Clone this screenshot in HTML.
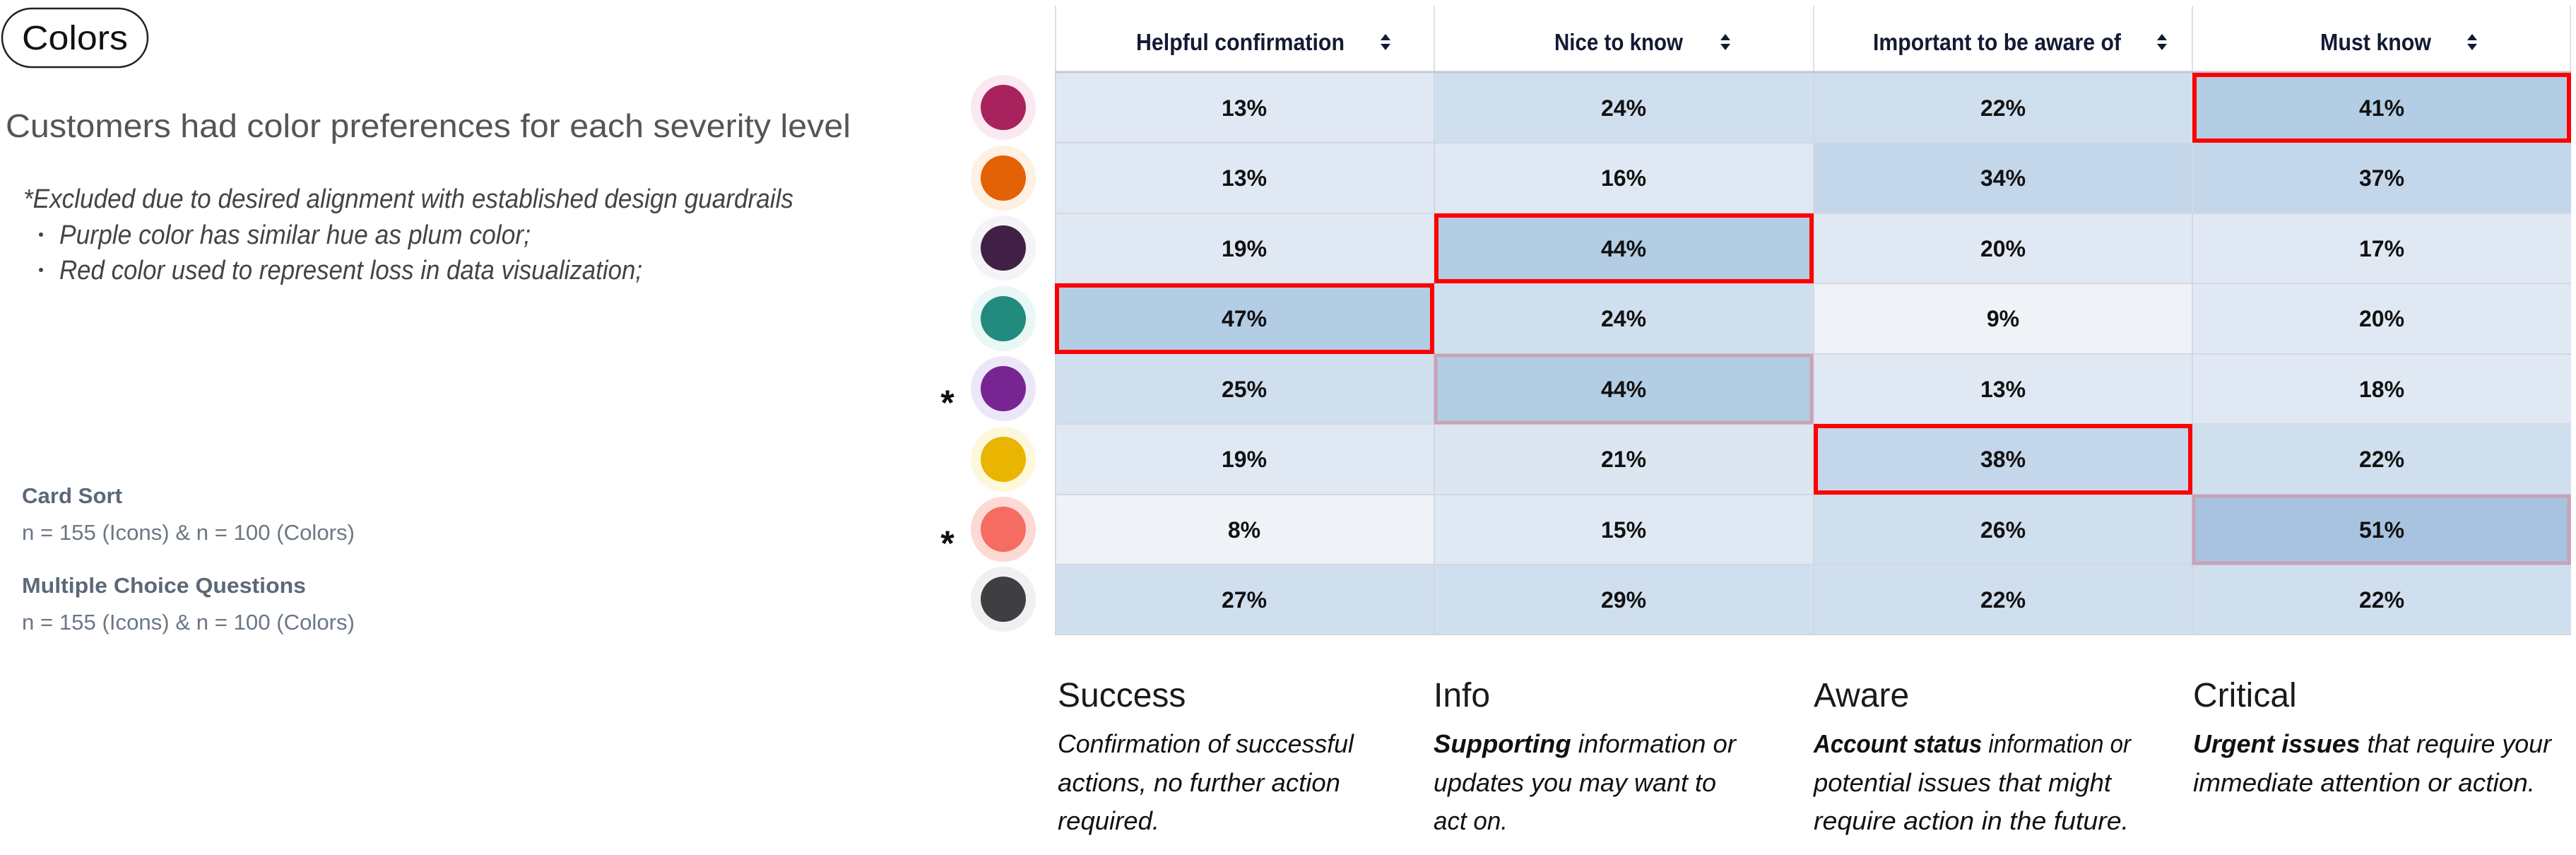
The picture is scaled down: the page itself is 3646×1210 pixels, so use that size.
<!DOCTYPE html>
<html><head><meta charset="utf-8"><style>html,body{margin:0;padding:0;background:#fff}svg{display:block}</style></head><body>
<svg width="3646" height="1210" viewBox="0 0 3646 1210" xmlns="http://www.w3.org/2000/svg" font-family="Liberation Sans, sans-serif">
<rect width="3646" height="1210" fill="#fff"/>
<rect x="3" y="12" width="206" height="83" rx="41.5" fill="#fff" stroke="#222" stroke-width="2.5"/>
<text x="106" y="70" font-size="48" fill="#111" text-anchor="middle" textLength="150" lengthAdjust="spacingAndGlyphs">Colors</text>
<text x="8" y="194" font-size="46" fill="#555" textLength="1196" lengthAdjust="spacingAndGlyphs">Customers had color preferences for each severity level</text>
<g font-style="italic" font-size="38" fill="#444">
<text x="33" y="294" textLength="1090" lengthAdjust="spacingAndGlyphs">*Excluded due to desired alignment with established design guardrails</text>
<text x="84" y="345" textLength="667" lengthAdjust="spacingAndGlyphs">Purple color has similar hue as plum color;</text>
<text x="84" y="395" textLength="825" lengthAdjust="spacingAndGlyphs">Red color used to represent loss in data visualization;</text>
</g>
<circle cx="58" cy="332" r="3" fill="#444"/><circle cx="58" cy="382" r="3" fill="#444"/>
<text x="31" y="712" font-size="31" font-weight="bold" fill="#5b6878" textLength="142" lengthAdjust="spacingAndGlyphs">Card Sort</text>
<text x="31" y="764" font-size="31" fill="#6b7785" textLength="471" lengthAdjust="spacingAndGlyphs">n = 155 (Icons) &amp; n = 100 (Colors)</text>
<text x="31" y="839" font-size="31" font-weight="bold" fill="#5b6878" textLength="402" lengthAdjust="spacingAndGlyphs">Multiple Choice Questions</text>
<text x="31" y="891" font-size="31" fill="#6b7785" textLength="471" lengthAdjust="spacingAndGlyphs">n = 155 (Icons) &amp; n = 100 (Colors)</text>

<g>
<circle cx="1420" cy="152" r="46" fill="#fbe9f1"/><circle cx="1420" cy="152" r="32" fill="#a8235e"/>
<circle cx="1420" cy="252" r="46" fill="#fef0e3"/><circle cx="1420" cy="252" r="32" fill="#e36205"/>
<circle cx="1420" cy="351" r="46" fill="#f4f4f8"/><circle cx="1420" cy="351" r="32" fill="#412046"/>
<circle cx="1420" cy="451" r="46" fill="#e9f8f4"/><circle cx="1420" cy="451" r="32" fill="#228b7d"/>
<circle cx="1420" cy="550" r="46" fill="#ece7f8"/><circle cx="1420" cy="550" r="32" fill="#772592"/>
<circle cx="1420" cy="650" r="46" fill="#fdf8dc"/><circle cx="1420" cy="650" r="32" fill="#e9b500"/>
<circle cx="1420" cy="749" r="46" fill="#fdd9d4"/><circle cx="1420" cy="749" r="32" fill="#f46c62"/>
<circle cx="1420" cy="848" r="46" fill="#f0f0f2"/><circle cx="1420" cy="848" r="32" fill="#3f3f41"/>
</g>
<text x="1341" y="587" font-size="50" font-weight="bold" fill="#111" text-anchor="middle">*</text>
<text x="1341" y="786" font-size="50" font-weight="bold" fill="#111" text-anchor="middle">*</text>

<g stroke="#dde0ea" stroke-width="2">
<line x1="1494" y1="8" x2="1494" y2="103"/><line x1="2030" y1="8" x2="2030" y2="103"/><line x1="2567" y1="8" x2="2567" y2="103"/><line x1="3103" y1="8" x2="3103" y2="103"/><line x1="3638" y1="8" x2="3638" y2="103"/>
</g>
<g font-size="33" font-weight="bold" fill="#131a33">
<text x="1608" y="71" textLength="295" lengthAdjust="spacingAndGlyphs">Helpful confirmation</text>
<text x="2200" y="71" textLength="182" lengthAdjust="spacingAndGlyphs">Nice to know</text>
<text x="2651" y="71" textLength="351" lengthAdjust="spacingAndGlyphs">Important to be aware of</text>
<text x="3284" y="71" textLength="157" lengthAdjust="spacingAndGlyphs">Must know</text>
</g>
<g fill="#131a33">
<path d="M1954 57 L1968 57 L1961 48 Z M1954 62 L1968 62 L1961 71 Z"/>
<path d="M2435 57 L2449 57 L2442 48 Z M2435 62 L2449 62 L2442 71 Z"/>
<path d="M3053 57 L3067 57 L3060 48 Z M3053 62 L3067 62 L3060 71 Z"/>
<path d="M3492 57 L3506 57 L3499 48 Z M3492 62 L3506 62 L3499 71 Z"/>
</g>

<g>
<rect x="1493" y="103" width="537" height="99" fill="#e0e9f3"/><rect x="2030" y="103" width="537" height="99" fill="#d0dfee"/><rect x="2567" y="103" width="536" height="99" fill="#d0dfee"/><rect x="3103" y="103" width="536" height="99" fill="#b3cde4"/>
<rect x="1493" y="202" width="537" height="100" fill="#e0e9f3"/><rect x="2030" y="202" width="537" height="100" fill="#e0e9f3"/><rect x="2567" y="202" width="536" height="100" fill="#c4d6ea"/><rect x="3103" y="202" width="536" height="100" fill="#c4d6ea"/>
<rect x="1493" y="302" width="537" height="99" fill="#e0e9f3"/><rect x="2030" y="302" width="537" height="99" fill="#b3cde4"/><rect x="2567" y="302" width="536" height="99" fill="#e0e9f3"/><rect x="3103" y="302" width="536" height="99" fill="#e0e9f3"/>
<rect x="1493" y="401" width="537" height="100" fill="#b3cde4"/><rect x="2030" y="401" width="537" height="100" fill="#d0dfee"/><rect x="2567" y="401" width="536" height="100" fill="#eff3f8"/><rect x="3103" y="401" width="536" height="100" fill="#e0e9f3"/>
<rect x="1493" y="501" width="537" height="99" fill="#d0dfee"/><rect x="2030" y="501" width="537" height="99" fill="#b3cde4"/><rect x="2567" y="501" width="536" height="99" fill="#e0e9f3"/><rect x="3103" y="501" width="536" height="99" fill="#e0e9f3"/>
<rect x="1493" y="600" width="537" height="100" fill="#e0e9f3"/><rect x="2030" y="600" width="537" height="100" fill="#dbe6f1"/><rect x="2567" y="600" width="536" height="100" fill="#c4d6ea"/><rect x="3103" y="600" width="536" height="100" fill="#d0dfee"/>
<rect x="1493" y="700" width="537" height="99" fill="#eff3f8"/><rect x="2030" y="700" width="537" height="99" fill="#e0e9f3"/><rect x="2567" y="700" width="536" height="99" fill="#d0dfee"/><rect x="3103" y="700" width="536" height="99" fill="#a7c3e0"/>
<rect x="1493" y="799" width="537" height="99" fill="#d0dfee"/><rect x="2030" y="799" width="537" height="99" fill="#d0dfee"/><rect x="2567" y="799" width="536" height="99" fill="#d0dfee"/><rect x="3103" y="799" width="536" height="99" fill="#d0dfee"/>
</g>
<g stroke="#d3d7e4" stroke-width="2">
<line x1="1493" y1="202" x2="3639" y2="202"/><line x1="1493" y1="302" x2="3639" y2="302"/><line x1="1493" y1="401" x2="3639" y2="401"/><line x1="1493" y1="501" x2="3639" y2="501"/><line x1="1493" y1="600" x2="3639" y2="600"/><line x1="1493" y1="700" x2="3639" y2="700"/><line x1="1493" y1="799" x2="3639" y2="799"/><line x1="1493" y1="898" x2="3639" y2="898"/>
<line x1="1494" y1="103" x2="1494" y2="898"/><line x1="2030" y1="103" x2="2030" y2="898"/><line x1="2567" y1="103" x2="2567" y2="898"/><line x1="3103" y1="103" x2="3103" y2="898"/>
</g>
<line x1="1493" y1="102" x2="3639" y2="102" stroke="#c4c6d8" stroke-width="3"/>
<g fill="none" stroke="#ff0000" stroke-width="6">
<rect x="3106" y="106" width="530" height="93"/>
<rect x="2033" y="305" width="531" height="93"/>
<rect x="1496" y="404" width="531" height="94"/>
<rect x="2570" y="603" width="530" height="94"/>
</g>
<g fill="none" stroke="#c9a3b6" stroke-width="5">
<rect x="2032" y="503" width="532" height="95"/>
<rect x="3105" y="702" width="531" height="95"/>
</g>
<g font-size="32" font-weight="bold" fill="#111" text-anchor="middle">
<text x="1761" y="164">13%</text><text x="2298" y="164">24%</text><text x="2835" y="164">22%</text><text x="3371" y="164">41%</text>
<text x="1761" y="263">13%</text><text x="2298" y="263">16%</text><text x="2835" y="263">34%</text><text x="3371" y="263">37%</text>
<text x="1761" y="363">19%</text><text x="2298" y="363">44%</text><text x="2835" y="363">20%</text><text x="3371" y="363">17%</text>
<text x="1761" y="462">47%</text><text x="2298" y="462">24%</text><text x="2835" y="462">9%</text><text x="3371" y="462">20%</text>
<text x="1761" y="562">25%</text><text x="2298" y="562">44%</text><text x="2835" y="562">13%</text><text x="3371" y="562">18%</text>
<text x="1761" y="661">19%</text><text x="2298" y="661">21%</text><text x="2835" y="661">38%</text><text x="3371" y="661">22%</text>
<text x="1761" y="761">8%</text><text x="2298" y="761">15%</text><text x="2835" y="761">26%</text><text x="3371" y="761">51%</text>
<text x="1761" y="860">27%</text><text x="2298" y="860">29%</text><text x="2835" y="860">22%</text><text x="3371" y="860">22%</text>
</g>

<g font-size="48" fill="#1a1a1a">
<text x="1497" y="1000">Success</text><text x="2029" y="1000">Info</text><text x="2567" y="1000">Aware</text><text x="3104" y="1000">Critical</text>
</g>
<g font-size="36" font-style="italic" fill="#111">
<text x="1497" y="1065" textLength="419" lengthAdjust="spacingAndGlyphs">Confirmation of successful</text>
<text x="1497" y="1120" textLength="400" lengthAdjust="spacingAndGlyphs">actions, no further action</text>
<text x="1497" y="1174" textLength="144" lengthAdjust="spacingAndGlyphs">required.</text>
<text x="2029" y="1065" textLength="428" lengthAdjust="spacingAndGlyphs"><tspan font-weight="bold">Supporting</tspan> information or</text>
<text x="2029" y="1120" textLength="400" lengthAdjust="spacingAndGlyphs">updates you may want to</text>
<text x="2029" y="1174" textLength="105" lengthAdjust="spacingAndGlyphs">act on.</text>
<text x="2567" y="1065" textLength="449" lengthAdjust="spacingAndGlyphs"><tspan font-weight="bold">Account status</tspan> information or</text>
<text x="2567" y="1120" textLength="421" lengthAdjust="spacingAndGlyphs">potential issues that might</text>
<text x="2567" y="1174" textLength="446" lengthAdjust="spacingAndGlyphs">require action in the future.</text>
<text x="3104" y="1065" textLength="507" lengthAdjust="spacingAndGlyphs"><tspan font-weight="bold">Urgent issues</tspan> that require your</text>
<text x="3104" y="1120" textLength="484" lengthAdjust="spacingAndGlyphs">immediate attention or action.</text>
</g>
</svg>
</body></html>
